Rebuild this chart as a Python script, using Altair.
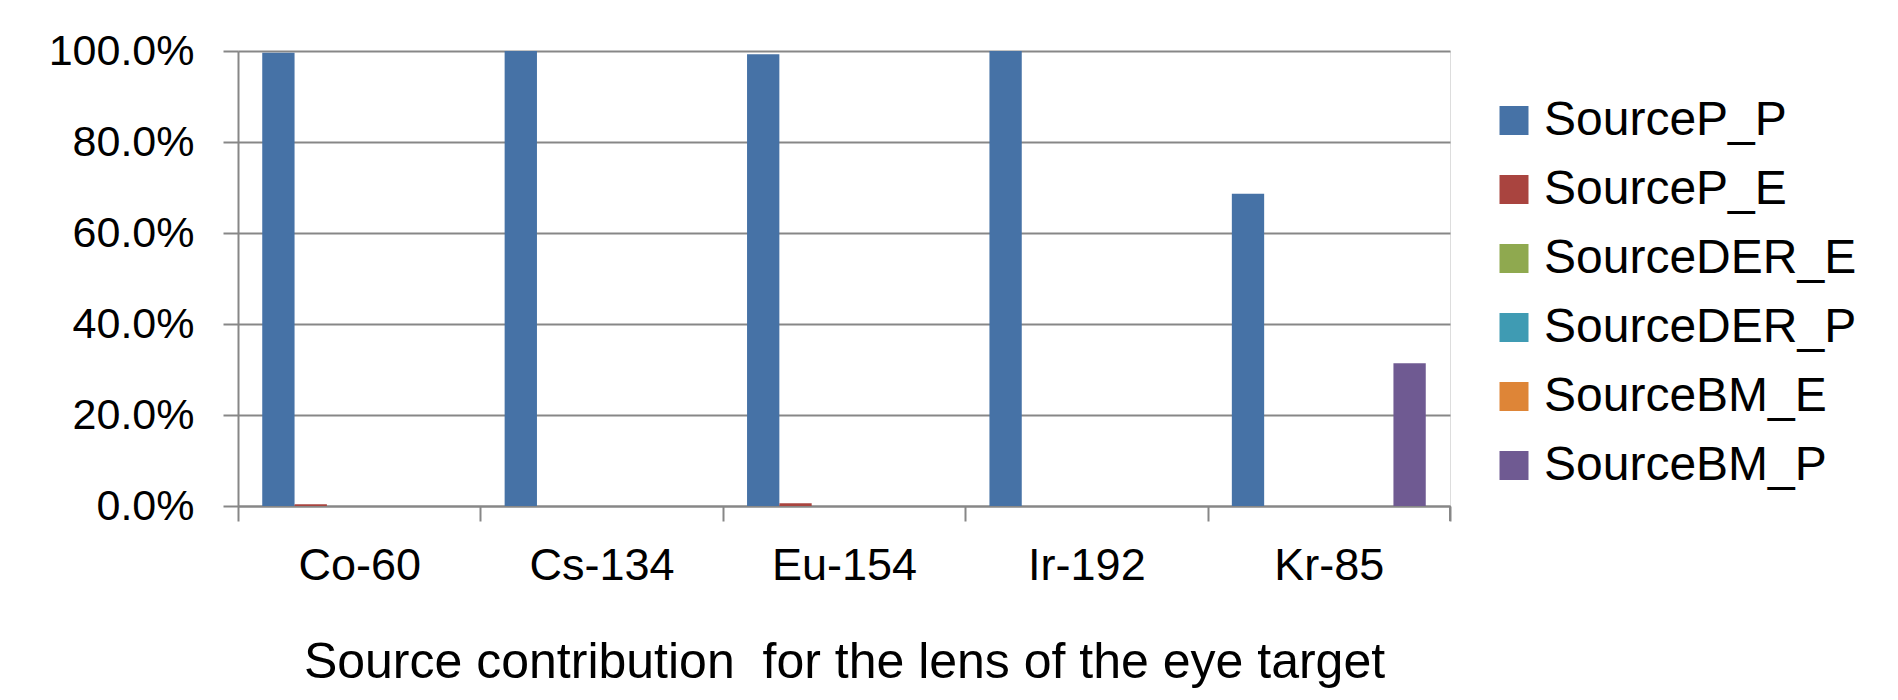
import altair as alt
import pandas as pd

categories = ["Co-60", "Cs-134", "Eu-154", "Ir-192", "Kr-85"]
series = ["SourceP_P", "SourceP_E", "SourceDER_E", "SourceDER_P", "SourceBM_E", "SourceBM_P"]
values = {
    "SourceP_P":   [99.6, 100.0, 99.3, 100.0, 68.6],
    "SourceP_E":   [0.4, 0.0, 0.6, 0.0, 0.0],
    "SourceDER_E": [0.0, 0.0, 0.0, 0.0, 0.0],
    "SourceDER_P": [0.0, 0.0, 0.0, 0.0, 0.0],
    "SourceBM_E":  [0.0, 0.0, 0.0, 0.0, 0.0],
    "SourceBM_P":  [0.0, 0.0, 0.0, 0.0, 31.4],
}
colors = ["#4672A6", "#A9443F", "#8FA94F", "#3F9BB3", "#DE8537", "#6F5A92"]
x_title = "Source contribution\u00a0 for the lens of the eye target"

rows = []
for s in series:
    for c, v in zip(categories, values[s]):
        rows.append({"category": c, "series": s, "value": v / 100.0})
df = pd.DataFrame(rows)

FONT = "Liberation Sans"
GRID = "#878787"
W, H = 1212, 455

bars = alt.Chart(df).mark_bar().encode(
    x=alt.X("category:N", sort=categories,
            scale=alt.Scale(paddingInner=0, paddingOuter=0),
            axis=alt.Axis(title=x_title, labelAngle=0, tickBand="extent",
                          labelFontSize=45, labelFont=FONT, labelColor="#000",
                          labelPadding=22, tickSize=15, tickColor=GRID, tickWidth=2,
                          domainColor=GRID, domainWidth=2,
                          titleFontSize=50, titleFont=FONT, titleFontWeight="normal",
                          titleColor="#000", titlePadding=49)),
    xOffset=alt.XOffset("series:N", sort=series,
                        scale=alt.Scale(paddingInner=0, paddingOuter=0.75)),
    y=alt.Y("value:Q", scale=alt.Scale(domain=[0, 1]),
            axis=alt.Axis(title=None, format=".1%", values=[0, 0.2, 0.4, 0.6, 0.8, 1.0],
                          labelFontSize=43, labelFont=FONT, labelColor="#000",
                          labelPadding=29, tickSize=15, tickColor=GRID, tickWidth=2,
                          domainColor=GRID, domainWidth=2,
                          grid=True, gridColor=GRID, gridWidth=2)),
    color=alt.Color("series:N", sort=series,
                    scale=alt.Scale(domain=series, range=colors),
                    legend=alt.Legend(title=None, orient="none", legendX=1252, legendY=45.5,
                                      symbolType="square", symbolSize=841,
                                      symbolStrokeWidth=0, symbolOpacity=1,
                                      labelFontSize=48, labelFont=FONT, labelColor="#000",
                                      labelLimit=0, labelOffset=6, rowPadding=21, padding=0)),
)

end_tick = alt.Chart(pd.DataFrame({"a": [0]})).mark_rule(color=GRID, strokeWidth=2).encode(
    x=alt.value(W), y=alt.value(H), y2=alt.value(H + 15)
)

chart = alt.layer(bars, end_tick).properties(
    width=W, height=H,
    padding={"left": 230, "top": 43, "right": 440, "bottom": 186},
    autosize=alt.AutoSizeParams(type="none"),
).configure_view(stroke=None).configure(background="white")

chart.save("out.html", embed_options={"renderer": "svg", "actions": False})
